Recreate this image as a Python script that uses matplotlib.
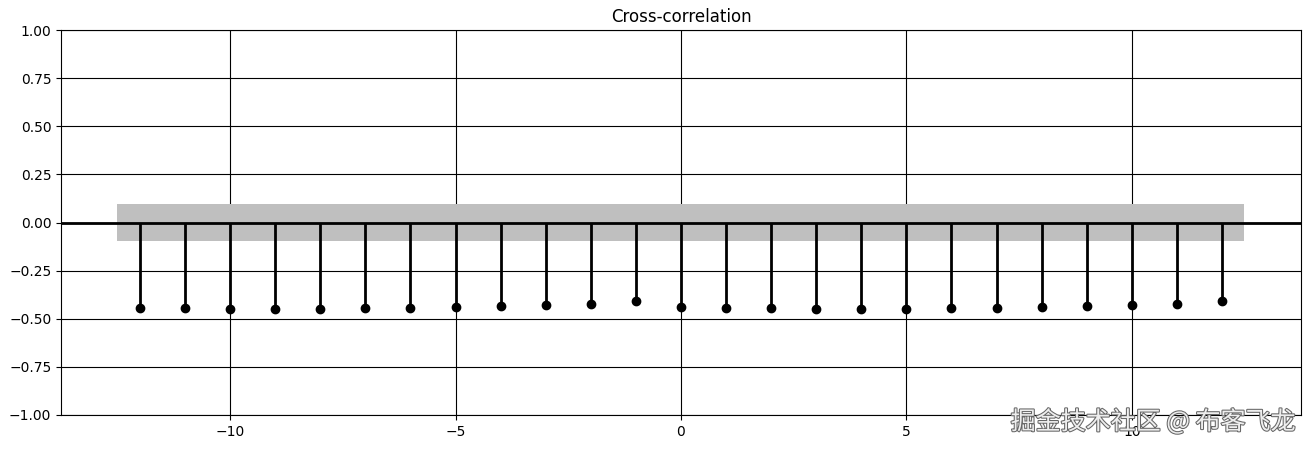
# Cross-correlation stem plot
import numpy as np
import matplotlib.pyplot as plt
import matplotlib.patheffects as pe

plt.style.use("grayscale")

# data
lags = list(range(-12, 13))
ccf = [-0.446, -0.446, -0.451, -0.451, -0.451, -0.446, -0.446, -0.441, -0.435,
       -0.427, -0.422, -0.409, -0.441,
       -0.446, -0.446, -0.451, -0.451, -0.451, -0.446, -0.446, -0.441, -0.435,
       -0.427, -0.422, -0.409]
conf = 0.095   # confidence band half-width
band_x = [-12.5, 12.5]

fig = plt.figure(figsize=(13.1, 4.5), dpi=100)
ax = fig.add_axes([0.0466, 0.0778, 0.9464, 0.8555])

ax.fill_between(band_x, -conf, conf, color="0.75", linewidth=0, zorder=1)
ax.vlines(lags, 0, ccf, color="black", linewidth=2, zorder=3)
ax.plot(lags, ccf, "o", color="black", markersize=6, zorder=4)
ax.axhline(0, color="black", linewidth=2, zorder=3)

ax.set_ylim(-1, 1)
ax.set_yticks(np.arange(-1, 1.01, 0.25))
ax.set_xlim(-13.75, 13.75)
ax.grid(True, color="black", linewidth=0.8)
ax.set_axisbelow(True)
ax.set_title("Cross-correlation")

fig.text(0.989, 0.062, "掘金技术社区 @ 布客飞龙", ha="right", va="center",
         fontsize=18, color="#eeeeee", family=["Noto Sans CJK SC", "DejaVu Sans"],
         path_effects=[pe.withStroke(linewidth=1.5, foreground="#666666")])

plt.savefig("out.png", dpi=100)
